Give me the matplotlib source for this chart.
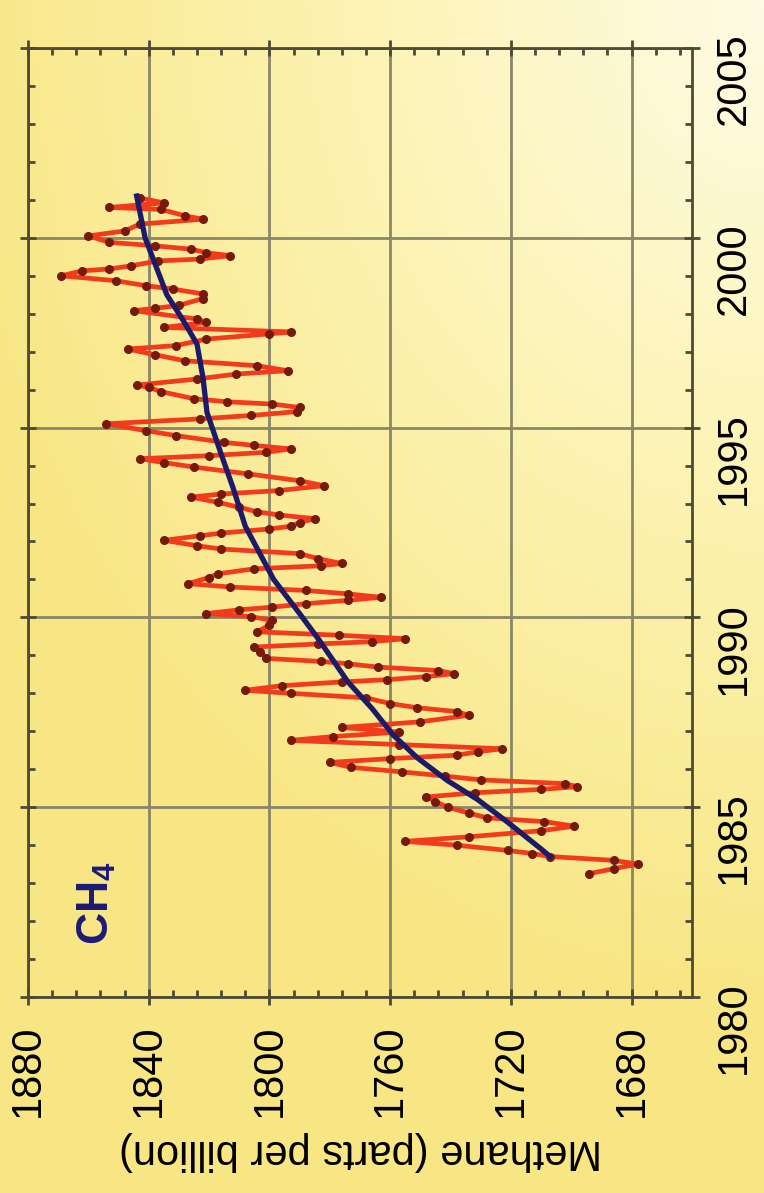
import numpy as np
import matplotlib.pyplot as plt
from matplotlib.colors import LinearSegmentedColormap
from matplotlib.ticker import MultipleLocator

plt.rcParams['font.family'] = ['Liberation Sans', 'DejaVu Sans']
plt.rcParams['mathtext.fontset'] = 'custom'
plt.rcParams['mathtext.rm'] = 'Liberation Sans'
plt.rcParams['mathtext.bf'] = 'Liberation Sans:bold'

# %% Data: flask CH4 record (decimal year, ppb) and the deseasonalised trend
years = [1983.25, 1983.38, 1983.50, 1983.60, 1983.70, 1983.78, 1983.86, 1984.00,
         1984.10, 1984.22, 1984.38, 1984.50, 1984.62, 1984.72, 1984.85, 1985.00,
         1985.15, 1985.27, 1985.38, 1985.47, 1985.54, 1985.62, 1985.72, 1985.82,
         1985.93, 1986.05, 1986.18, 1986.28, 1986.37, 1986.46, 1986.54, 1986.65,
         1986.76, 1986.86, 1986.98, 1987.10, 1987.25, 1987.42, 1987.52, 1987.62,
         1987.73, 1987.88, 1988.00, 1988.08, 1988.20, 1988.30, 1988.36, 1988.44,
         1988.52, 1988.60, 1988.69, 1988.78, 1988.84, 1988.92, 1989.10, 1989.22,
         1989.30, 1989.36, 1989.44, 1989.53, 1989.62, 1989.80, 1989.92, 1990.02,
         1990.10, 1990.20, 1990.27, 1990.36, 1990.45, 1990.53, 1990.62, 1990.71,
         1990.80, 1990.89, 1991.05, 1991.15, 1991.28, 1991.36, 1991.42, 1991.55,
         1991.68, 1991.80, 1991.89, 1992.03, 1992.15, 1992.22, 1992.33, 1992.40,
         1992.50, 1992.60, 1992.70, 1992.78, 1992.90, 1993.03, 1993.17, 1993.25,
         1993.34, 1993.47, 1993.60, 1993.78, 1993.96, 1994.08, 1994.18, 1994.26,
         1994.35, 1994.44, 1994.53, 1994.61, 1994.79, 1994.92, 1995.10, 1995.23,
         1995.32, 1995.42, 1995.53, 1995.62, 1995.68, 1995.76, 1995.95, 1996.06,
         1996.12, 1996.28, 1996.41, 1996.50, 1996.63, 1996.76, 1996.92, 1997.07,
         1997.16, 1997.33, 1997.47, 1997.52, 1997.64, 1997.77, 1997.86, 1998.08,
         1998.14, 1998.22, 1998.40, 1998.52, 1998.65, 1998.74, 1998.87, 1999.00,
         1999.13, 1999.18, 1999.26, 1999.39, 1999.44, 1999.53, 1999.61, 1999.70,
         1999.79, 1999.88, 2000.05, 2000.18, 2000.36, 2000.49, 2000.58, 2000.75,
         2000.80, 2000.92, 2001.05]
ch4_ppb = [1694, 1686, 1678, 1686, 1707, 1713, 1721, 1738,
           1755, 1734, 1710, 1699, 1709, 1728, 1734, 1741,
           1745, 1748, 1732, 1710, 1698, 1702, 1730, 1742,
           1756, 1773, 1780, 1760, 1738, 1731, 1723, 1757,
           1793, 1779, 1757, 1776, 1750, 1734, 1738, 1751,
           1760, 1768, 1793, 1808, 1796, 1776, 1761, 1748,
           1739, 1744, 1764, 1774, 1783, 1801, 1803, 1805,
           1784, 1766, 1755, 1777, 1804, 1800, 1799, 1806,
           1821, 1810, 1799, 1788, 1774, 1763, 1774, 1788,
           1813, 1827, 1820, 1817, 1805, 1783, 1776, 1784,
           1790, 1816, 1824, 1835, 1823, 1816, 1800, 1793,
           1790, 1785, 1797, 1804, 1810, 1817, 1826, 1816,
           1797, 1782, 1790, 1807, 1825, 1835, 1843, 1820,
           1801, 1793, 1805, 1815, 1831, 1841, 1854, 1823,
           1806, 1791, 1790, 1799, 1814, 1825, 1836, 1840,
           1844, 1824, 1811, 1794, 1804, 1828, 1838, 1847,
           1831, 1821, 1800, 1793, 1835, 1821, 1824, 1845,
           1838, 1830, 1822, 1822, 1832, 1841, 1851, 1869,
           1862, 1853, 1846, 1837, 1823, 1813, 1821, 1826,
           1838, 1853, 1860, 1848, 1843, 1822, 1828, 1836,
           1853, 1835, 1843]

trend_years = [1983.7, 1983.9, 1984.6, 1985.2, 1985.7, 1986.3, 1986.9, 1987.6,
               1988.3, 1989.4, 1990.1, 1991.0, 1992.4, 1993.4, 1994.3, 1995.4,
               1996.3, 1997.2, 1997.8, 1998.5, 2000.0, 2001.1]
trend_ppb = [1707, 1710, 1721, 1731, 1741, 1751, 1759, 1766,
             1774, 1783.5, 1790, 1798.6, 1808, 1812, 1816, 1820.7,
             1822, 1824, 1828.4, 1834, 1841.2, 1844]

methane_ticks = [1880, 1840, 1800, 1760, 1720, 1680]
year_ticks = [1980, 1985, 1990, 1995, 2000, 2005]

# %% Figure with a yellow wash behind everything
fig = plt.figure(figsize=(7.64, 11.93), dpi=100)

bg = fig.add_axes([0, 0, 1, 1], zorder=-10)
gx, gy = np.meshgrid(np.linspace(0, 1, 200), np.linspace(0, 1, 300))
wash = np.clip(np.hypot(1 - gx, (1 - gy) * 1.3) / 1.1, 0, 1)
cmap = LinearSegmentedColormap.from_list('wash', ['#fffbe4', '#fcf3b2', '#f8e684'])
bg.imshow(wash, cmap=cmap, origin='lower', extent=[0, 1, 0, 1], aspect='auto')
bg.axis('off')

# %% Plot, drawn sideways: methane along x (reversed), time running up
ax = fig.add_axes([28 / 764, 196 / 1193, 664 / 764, 949 / 1193])
ax.set_facecolor('none')

ax.plot(ch4_ppb, years, '-', color='#f23a1c', lw=3.4, zorder=3,
        solid_joinstyle='round')
ax.plot(ch4_ppb, years, 'o', color='#761a10', ms=5.5, zorder=4)
ax.plot(trend_ppb, trend_years, '-', color='#1d1a6b', lw=3.8, zorder=5)

ax.set_xlim(1880, 1660)
ax.set_ylim(1980, 2005)
ax.set_xticks(methane_ticks)
ax.set_yticks(year_ticks)
ax.xaxis.set_minor_locator(MultipleLocator(8))
ax.yaxis.set_minor_locator(MultipleLocator(1))

ax.grid(True, which='major', color='#8a8668', lw=2, zorder=1)
for s in ax.spines.values():
    s.set_color('#4d4a35')
    s.set_linewidth(2)

ax.tick_params(which='major', direction='inout', length=12, width=2,
               color='#4d4a35', labelsize=30, top=True, bottom=True,
               left=True, right=True)
ax.tick_params(which='minor', direction='in', length=5, width=2,
               color='#4d4a35', top=True, bottom=True, left=True, right=True)
ax.tick_params(axis='y', labelleft=False, labelright=True,
               labelrotation=90, pad=10)
ax.tick_params(axis='x', labelrotation=90, pad=14)

ax.set_xlabel('Methane (parts per billion)', fontsize=30, rotation=180,
              labelpad=10)

ax.text(0.104, 0.099, r'$\mathbf{CH_4}$', transform=ax.transAxes,
        rotation=90, fontsize=32, color='#1d1a78', ha='center', va='center')

fig.savefig('out.png', dpi=100)
